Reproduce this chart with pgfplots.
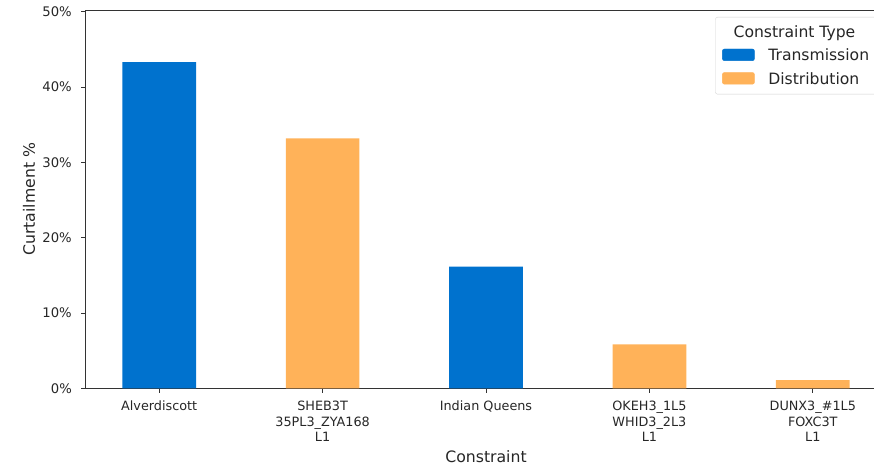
\documentclass[border=0pt]{standalone}
\usepackage{fontspec}
\setmainfont{DejaVu Sans}
\usepackage{pgfplots}
\pgfplotsset{compat=1.18}
\definecolor{tblue}{RGB}{0,114,206}
\definecolor{torange}{RGB}{255,178,89}
\definecolor{txt}{RGB}{38,38,38}
\begin{document}
\begin{tikzpicture}
\begin{axis}[
  at={(0,0)}, anchor=south west,
  scale only axis, width=800pt, height=378pt,
  xmin=-0.448, xmax=4.448, ymin=0, ymax=50.2,
  xtick={0,1,2,3,4},
  xticklabels={Alverdiscott,{SHEB3T\\35PL3\_ZYA168\\L1},Indian Queens,{OKEH3\_1L5\\WHID3\_2L3\\L1},{DUNX3\_\#1L5\\FOXC3T\\L1}},
  ytick={0,10,20,30,40,50},
  yticklabels={0\%,10\%,20\%,30\%,40\%,50\%},
  tick align=outside, major tick length=4.5pt,
  xtick pos=left, ytick pos=left,
  tick style={black!80, line width=0.9pt},
  axis line style={black!80, line width=1pt},
  xticklabel style={align=center, inner sep=0pt, yshift=-8pt, font=\fontsize{12.8}{15.7}\selectfont, text=txt},
  yticklabel style={inner sep=0pt, xshift=-9.5pt, font=\fontsize{13.2}{15.7}\selectfont, text=txt},
  xlabel={Constraint}, ylabel={Curtailment \%},
  every axis x label/.style={at={(axis description cs:0.5,0)}, anchor=base, yshift=-73.7pt, font=\fontsize{15.7}{18}\selectfont, text=txt},
  every axis y label/.style={at={(axis description cs:-0.06375,0.5)}, rotate=90, anchor=base, font=\fontsize{15.7}{18}\selectfont, text=txt},
  legend cell align=left,
  legend style={at={(rel axis cs:1,1)}, anchor=north east, xshift=-10pt, yshift=-6.7pt,
    draw=black!18, rounded corners=2pt, fill=white,
    inner xsep=6.7pt, inner ysep=8pt, row sep=9.5pt, column sep=13.7pt,
    nodes={inner sep=0pt, text height=12pt, text depth=2pt, font=\fontsize{15.6}{18}\selectfont, text=txt}},
]
\addplot[ybar, fill=tblue, draw=none, bar width=73.7pt, bar shift=0pt, forget plot]
  coordinates {(0,43.3) (2,16.15)};
\addplot[ybar, fill=torange, draw=none, bar width=73.7pt, bar shift=0pt, forget plot]
  coordinates {(1,33.2) (3,5.84) (4,1.10)};
\addlegendimage{empty legend}
\addlegendentry{\hspace*{-34.7pt}Constraint Type}
\addlegendimage{legend image code/.code={\fill[tblue] (0pt,-5pt) rectangle (32pt,6.7pt);}}
\addlegendentry{Transmission}
\addlegendimage{legend image code/.code={\fill[torange] (0pt,-5pt) rectangle (32pt,6.7pt);}}
\addlegendentry{Distribution}
\end{axis}
\pgfresetboundingbox
\useasboundingbox (-86pt,-76.7pt) rectangle (788pt,388.3pt);
\end{tikzpicture}
\end{document}
